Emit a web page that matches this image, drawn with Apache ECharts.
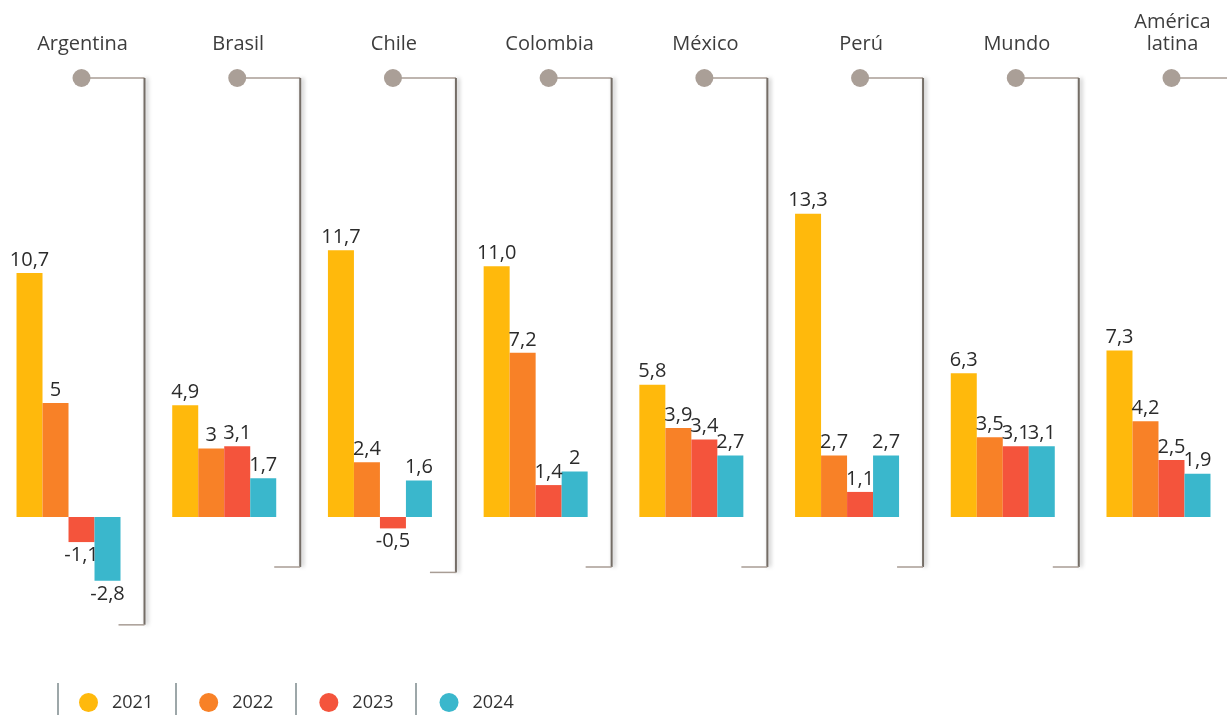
<!DOCTYPE html>
<html>
<head>
<meta charset="utf-8">
<script src="https://cdn.jsdelivr.net/npm/echarts@6/dist/echarts.min.js"></script>
<style>
  html, body { margin: 0; padding: 0; background: #fff; }
  #chart { width: 1227px; height: 715px; }
</style>
</head>
<body>
<div id="chart"></div>
<script>
// values as printed in the source (decimal comma)
const countries = ['Argentina', 'Brasil', 'Chile', 'Colombia', 'México', 'Perú', 'Mundo', 'América\nlatina'];
const years = ['2021', '2022', '2023', '2024'];
const v2021 = ['10,7', '4,9', '11,7', '11,0', '5,8', '13,3', '6,3', '7,3'];
const v2022 = ['5', '3', '2,4', '7,2', '3,9', '2,7', '3,5', '4,2'];
const v2023 = ['-1,1', '3,1', '-0,5', '1,4', '3,4', '1,1', '3,1', '2,5'];
const v2024 = ['-2,8', '1,7', '1,6', '2', '2,7', '2,7', '3,1', '1,9'];
const colors = ['#FFB90C', '#F88127', '#F4543C', '#3AB7CC'];

const chart = echarts.init(document.getElementById('chart'));
const font = '"Open Sans", "Noto Sans", sans-serif';

function num(s) {
    return parseFloat(s.replace(',', '.'));
}

function toItems(arr) {
    return arr.map(function(s, i) {
        const v = num(s);
        return {
            value: [i, v],
            label: {
                position: v < 0 ? 'bottom' : 'top',
                formatter: s
            }
        };
    });
}

const allSeries = [v2021, v2022, v2023, v2024].map(function(arr, i) {
    return {
        name: years[i],
        type: 'bar',
        barWidth: 26,
        barGap: '0%',
        itemStyle: { color: colors[i] },
        label: {
            show: true,
            color: '#2b2b2b',
            fontSize: 20,
            fontFamily: font,
            distance: 3
        },
        data: toItems(arr)
    };
});

chart.setOption({
    animation: false,
    grid: { left: 0, right: 0, top: 175, height: 456 },
    xAxis: {
        type: 'value',
        min: -0.44,
        max: 7.44,
        show: false,
        splitLine: { show: false }
    },
    yAxis: {
        type: 'value',
        min: -5,
        max: 15,
        show: false,
        splitLine: { show: false }
    },
    legend: {
        left: 74,
        bottom: -2,
        icon: 'circle',
        itemWidth: 19,
        itemHeight: 19,
        itemGap: 46,
        textStyle: { color: '#333', fontSize: 18, fontFamily: font, padding: [0, 0, 0, 9] },
        data: years
    },
    series: allSeries
});

// decorations: country names, dots, brackets, legend separators
const graphics = [];
const lineColor = '#a89d95';
const allVals = [v2021, v2022, v2023, v2024];
countries.forEach(function(c, i) {
    const cx = chart.convertToPixel({ xAxisIndex: 0 }, i);
    const y0 = chart.convertToPixel({ yAxisIndex: 0 }, 0);
    let minV = 0;
    allVals.forEach(function(arr) {
        if (num(arr[i]) < minV) minV = num(arr[i]);
    });
    const yMin = chart.convertToPixel({ yAxisIndex: 0 }, minV);
    const bottom = Math.max(y0 + 50, yMin + 44);
    const dotX = cx + 13;
    const vx = cx + 76;
    const last = i === countries.length - 1;
    graphics.push({
        type: 'text',
        x: dotX + 1,
        y: 55,
        style: {
            text: c,
            fill: '#3d3d3d',
            font: '20px ' + font,
            lineHeight: 22,
            align: 'center',
            verticalAlign: 'bottom'
        }
    });
    graphics.push({
        type: 'line',
        shape: { x1: dotX, y1: 78, x2: last ? 1227 : vx, y2: 78 },
        style: { stroke: lineColor, lineWidth: 1.5 }
    });
    graphics.push({
        type: 'circle',
        shape: { cx: dotX, cy: 78, r: 9 },
        style: { fill: '#aa9f97' }
    });
    if (!last) {
        graphics.push({
            type: 'line',
            shape: { x1: vx, y1: 78, x2: vx, y2: bottom },
            style: {
                stroke: '#746d66', lineWidth: 2,
                shadowBlur: 4, shadowColor: 'rgba(0,0,0,0.35)', shadowOffsetX: 2
            }
        });
        graphics.push({
            type: 'line',
            shape: { x1: vx - 26, y1: bottom, x2: vx, y2: bottom },
            style: { stroke: lineColor, lineWidth: 1.5 }
        });
    }
});
[58, 176, 296, 416].forEach(function(x) {
    graphics.push({
        type: 'line',
        shape: { x1: x, y1: 683, x2: x, y2: 715 },
        style: { stroke: '#7d8a8c', lineWidth: 1.5 }
    });
});
chart.setOption({ graphic: graphics });
</script>
</body>
</html>
